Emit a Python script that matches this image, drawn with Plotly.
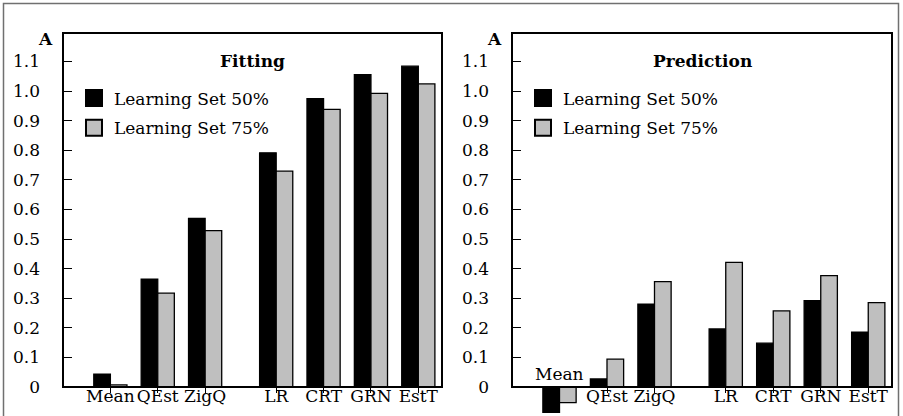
import plotly.graph_objects as go

# ---------------- data ----------------
categories = ["Mean", "QEst", "ZigQ", "LR", "CRT", "GRN", "EstT"]
positions = [0, 1, 2, 3.5, 4.5, 5.5, 6.5]
series_names = ["Learning Set 50%", "Learning Set 75%"]
fit_50 = [0.043, 0.364, 0.570, 0.791, 0.974, 1.055, 1.084]
fit_75 = [0.007, 0.317, 0.528, 0.729, 0.938, 0.992, 1.024]
pred_50 = [-0.086, 0.027, 0.280, 0.196, 0.148, 0.292, 0.185]
pred_75 = [-0.053, 0.094, 0.356, 0.421, 0.257, 0.376, 0.285]
y_tickvals = [0, 0.1, 0.2, 0.3, 0.4, 0.5, 0.6, 0.7, 0.8, 0.9, 1.0, 1.1]
y_ticktext = ["0", "0.1", "0.2", "0.3", "0.4", "0.5", "0.6", "0.7", "0.8", "0.9", "1.0", "1.1"]
panel_titles = ["Fitting", "Prediction"]

# ---------------- style ----------------
W, H = 903, 416
FONT = "DejaVu Serif"
FS = 17
GREY = "#bfbfbf"
colors = ["black", GREY]
x_range = [-1, 7]
y_range = [-0.098, 1.196]
x_dom_left = [63 / W, 442 / W]
x_dom_right = [512 / W, 892 / W]
y_dom = [0, 1 - 33 / H]
axis_pos = 1 - 387 / H       # paper position of y = 0
label_pos = 1 - 384 / H      # paper position used for the category labels

fig = go.Figure()

panels = [
    ("x", "y", "x3", "legend", fit_50, fit_75, x_dom_left),
    ("x2", "y2", "x4", "legend2", pred_50, pred_75, x_dom_right),
]

for xa, ya, xl, leg, s50, s75, dom in panels:
    for name, vals, col in zip(series_names, [s50, s75], colors):
        fig.add_trace(go.Bar(
            x=positions, y=vals, name=name, xaxis=xa, yaxis=ya,
            marker=dict(color=col, line=dict(color="black", width=1.3)),
            showlegend=False, hoverinfo="skip",
        ))
    for i, (name, col) in enumerate(zip(series_names, colors)):
        fig.add_trace(go.Scatter(
            x=[None], y=[None], mode="markers", name=name, xaxis=xa, yaxis=ya,
            marker=dict(symbol="square", size=16, color=col,
                        line=dict(color="black", width=2)),
            legend=leg, legendgroup=leg + str(i), showlegend=True,
        ))
    # invisible carrier trace for the label axis
    fig.add_trace(go.Scatter(x=[None], y=[None], mode="markers", xaxis=xl, yaxis=ya,
                             showlegend=False, hoverinfo="skip"))

common_x = dict(range=x_range, anchor="free", position=axis_pos,
                tickmode="array", tickvals=positions, showticklabels=False,
                ticks="outside", ticklen=5, tickcolor="black", tickwidth=1,
                showgrid=False, zeroline=False, showline=False, fixedrange=True)
label_x = dict(range=x_range, anchor="free", position=label_pos,
               tickmode="array", tickvals=positions, ticks="",
               showgrid=False, zeroline=False, showline=False,
               tickfont=dict(family=FONT, size=FS, color="black"),
               ticklabelstandoff=0, fixedrange=True)
common_y = dict(range=y_range, domain=y_dom,
                tickmode="array", tickvals=y_tickvals, ticktext=y_ticktext,
                ticks="inside", ticklen=9, tickcolor="black", tickwidth=1,
                showgrid=False, zeroline=False, showline=False,
                tickfont=dict(family=FONT, size=FS, color="black"),
                ticklabelstandoff=22, fixedrange=True)

right_ticktext = [""] + categories[1:]

leg_common = dict(xanchor="left", yanchor="top", bgcolor="rgba(0,0,0,0)",
                  borderwidth=0, font=dict(family=FONT, size=FS, color="black"),
                  traceorder="grouped", tracegroupgap=4.5, itemsizing="trace")

fig.update_layout(
    width=W, height=H, autosize=False,
    margin=dict(l=0, r=0, t=0, b=0),
    paper_bgcolor="white", plot_bgcolor="white",
    barmode="group", bargap=0.3, bargroupgap=0,
    font=dict(family=FONT, size=FS, color="black"),
    xaxis=dict(domain=x_dom_left, **common_x),
    yaxis=dict(anchor="x", **common_y),
    xaxis2=dict(domain=x_dom_right, **common_x),
    yaxis2=dict(anchor="x2", **common_y),
    xaxis3=dict(domain=x_dom_left, overlaying="x", ticktext=categories, **label_x),
    xaxis4=dict(domain=x_dom_right, overlaying="x2", ticktext=right_ticktext, **label_x),
    legend=dict(x=x_dom_left[0] + 11 / W, y=1 - 80.5 / H, **leg_common),
    legend2=dict(x=x_dom_right[0] + 11 / W, y=1 - 80.5 / H, **leg_common),
)

# panel frames and labels
shapes = []
annotations = []
for (xa, ya, xl, leg, s50, s75, dom), title in zip(panels, panel_titles):
    shapes.append(dict(type="rect", xref="paper", yref="paper",
                       x0=dom[0], x1=dom[1], y0=axis_pos, y1=y_dom[1],
                       line=dict(color="black", width=2), layer="above"))
    annotations.append(dict(xref=xa, yref=ya, x=(x_range[0] + x_range[1]) / 2, y=1.1,
                            text="<b>" + title + "</b>", showarrow=False,
                            xanchor="center", yanchor="middle",
                            font=dict(family=FONT, size=FS, color="black")))
    annotations.append(dict(xref=xa, yref=ya, x=x_range[0], y=1.176,
                            text="<b>A</b>", showarrow=False,
                            xanchor="right", yanchor="middle", xshift=-8,
                            font=dict(family=FONT, size=FS, color="black")))

# "Mean" label above axis for the negative bars in the Prediction panel
annotations.append(dict(xref="x2", yref="y2", x=positions[0], y=0,
                        text=categories[0], showarrow=False,
                        xanchor="center", yanchor="bottom", yshift=1,
                        font=dict(family=FONT, size=FS, color="black")))

# outer frame
shapes.append(dict(type="rect", xref="paper", yref="paper",
                   x0=3.5 / W, x1=898.5 / W, y0=-0.02, y1=1 - 3.5 / H,
                   line=dict(color="#707070", width=1.5), layer="above"))

fig.update_layout(shapes=shapes, annotations=annotations)

fig.write_html("out.html",
               config={"displayModeBar": False, "staticPlot": True},
               post_script="document.body.style.margin='0';document.body.style.overflow='hidden';")
